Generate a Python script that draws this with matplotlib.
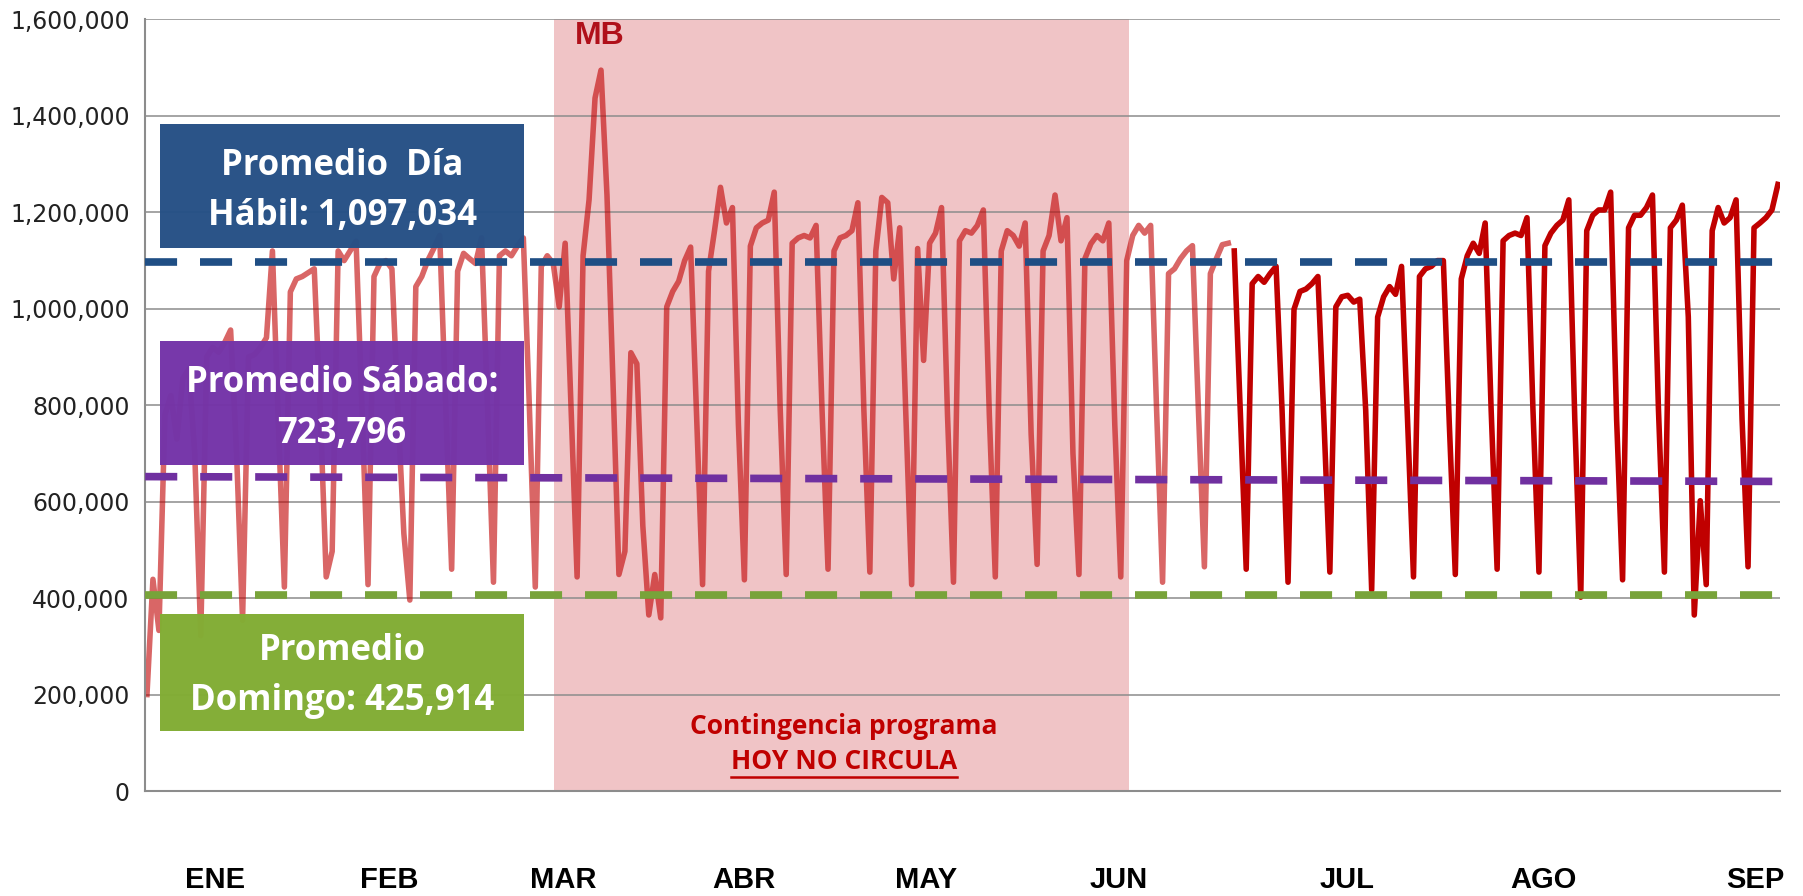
import numpy as np
import matplotlib
matplotlib.use("Agg")
import matplotlib.pyplot as plt
from matplotlib.patches import Rectangle
from matplotlib.ticker import FuncFormatter

# daily ridership (thousands), 1 Jan 2016 -> 30 Jun 2016 (lighter series)
light = [200, 439, 333, 780, 820, 730, 855, 875, 700, 322,
         900, 920, 910, 930, 956, 700, 354, 900, 905, 920,
         940, 1120, 760, 423, 1035, 1062, 1067, 1075, 1083, 790,
         444, 497, 1120, 1100, 1120, 1140, 790, 428, 1067, 1094,
         1100, 1083, 790, 534, 396, 1046, 1067, 1100, 1125, 1152,
         800, 460, 1078, 1115, 1104, 1094, 1147, 800, 433, 1110,
         1120, 1110, 1130, 1147, 800, 423, 1088, 1110, 1094, 1004,
         1136, 790, 444, 1110, 1226, 1437, 1495, 1236, 850, 449,
         497, 909, 886, 550, 365, 449, 359, 1004, 1036, 1057,
         1100, 1128, 780, 428, 1078, 1162, 1252, 1178, 1210, 760,
         438, 1130, 1168, 1178, 1184, 1242, 790, 449, 1136, 1147,
         1152, 1147, 1173, 790, 460, 1120, 1147, 1152, 1162, 1220,
         790, 454, 1120, 1231, 1220, 1062, 1168, 790, 428, 1125,
         893, 1136, 1157, 1210, 780, 433, 1141, 1162, 1157, 1173,
         1205, 780, 444, 1120, 1162, 1152, 1130, 1178, 740, 470,
         1120, 1152, 1236, 1141, 1189, 700, 449, 1104, 1135, 1152,
         1141, 1178, 760, 444, 1100, 1152, 1173, 1157, 1173, 790,
         433, 1073, 1083, 1104, 1120, 1131, 790, 465, 1073, 1104,
         1133, 1136]

# 1 Jul 2016 -> 30 Sep 2016 (darker series)
dark = [1120, 790, 460, 1052, 1067, 1055, 1073, 1088, 790, 433,
        999, 1036, 1041, 1052, 1067, 771, 454, 1004, 1025, 1028,
        1014, 1020, 790, 417, 983, 1025, 1046, 1030, 1088, 771,
        444, 1067, 1083, 1088, 1100, 1100, 760, 449, 1062, 1110,
        1136, 1115, 1178, 790, 460, 1141, 1152, 1157, 1152, 1189,
        790, 454, 1131, 1157, 1173, 1184, 1226, 771, 402, 1162,
        1194, 1205, 1205, 1242, 771, 438, 1168, 1194, 1194, 1210,
        1236, 793, 454, 1168, 1184, 1215, 983, 365, 602, 428,
        1162, 1210, 1178, 1189, 1226, 771, 465, 1168, 1178, 1189,
        1205, 1258]

prom_habil = 1097034
prom_sabado = [652000, 642000]   # trend line, start / end
prom_domingo = 406000

months = ["ENE", "FEB", "MAR", "ABR", "MAY", "JUN", "JUL", "AGO", "SEP"]
month_pos = [11.4, 40.5, 69.6, 99.9, 130.4, 162.7, 200.9, 233.8, 269.3]
contingencia = (68.15, 164.4)

light = np.array(light) * 1000
dark = np.array(dark) * 1000
x_light = np.arange(len(light))
x_dark = np.arange(len(light), len(light) + len(dark))
n_days = len(light) + len(dark)

W, H = 1803, 896
fig = plt.figure(figsize=(W / 100, H / 100), dpi=100)
ax = fig.add_axes([145 / W, 105 / H, 1635 / W, 771.5 / H])


def fy(py):
    # pixel row in the picture -> axes fraction
    return (791 - py) / 771.5


def fx(px):
    return (px - 145) / 1635


ax.axvspan(*contingencia, color="#F0C4C6", zorder=0.2, lw=0)
ax.set_axisbelow(True)
ax.grid(axis="y", color="#8C8C8C", lw=1.1)

ax.plot(x_light, light, color="#C00000", alpha=0.6, lw=4.0, zorder=2,
        solid_joinstyle="round")
ax.plot(x_dark, dark, color="#C00000", lw=4.0, zorder=2, solid_joinstyle="round")

dash = dict(lw=5.5, dashes=(4.2, 3.0), zorder=3, solid_capstyle="butt")
xr = [-0.3, n_days - 1 + 0.3]
ax.plot(xr, [prom_habil, prom_habil], color="#1F4E84", **dash)
ax.plot(xr, prom_sabado, color="#7030A0", **dash)
ax.plot(xr, [prom_domingo, prom_domingo], color="#78A33A", **dash)

ax.set_xlim(-0.33, 273.35)
ax.set_ylim(0, 1600000)
ax.set_yticks(np.arange(0, 1600001, 200000))
ax.yaxis.set_major_formatter(FuncFormatter(lambda v, p: f"{int(v):,}"))
ax.tick_params(axis="y", length=0, pad=11, labelsize=17, labelcolor="#222222")
ax.set_xticks(month_pos)
ax.set_xticklabels(months, fontfamily="Liberation Sans", fontweight="bold",
                   fontsize=21)
ax.tick_params(axis="x", length=0, pad=54)

for s in ["top", "right"]:
    ax.spines[s].set_visible(False)
for s in ["left", "bottom"]:
    ax.spines[s].set_color("#8C8C8C")
    ax.spines[s].set_linewidth(1.5)

# label boxes
boxes = [
    (124, 248, "#265086", ["Promedio  Día", "Hábil: 1,097,034"], [175, 225]),
    (341, 465, "#7434A8", ["Promedio Sábado:", "723,796"], [392, 443]),
    (614, 731, "#82AD34", ["Promedio", "Domingo: 425,914"], [660, 710]),
]
for top, bot, col, lines, bases in boxes:
    ax.add_patch(Rectangle((fx(160), fy(bot)), fx(524) - fx(160), fy(top) - fy(bot),
                           transform=ax.transAxes, facecolor=col, edgecolor="none",
                           alpha=0.98, zorder=5, clip_on=False))
    for t, b in zip(lines, bases):
        ax.text(fx(342), fy(b), t, transform=ax.transAxes, ha="center",
                va="baseline", color="white", fontsize=25, fontweight="bold",
                fontfamily="Open Sans", zorder=6)

# contingency note
ax.text(fx(844), fy(734), "Contingencia programa", transform=ax.transAxes,
        ha="center", va="baseline", color="#C00000", fontsize=19,
        fontweight="bold", fontfamily="Open Sans", zorder=6)
t2 = ax.text(fx(844), fy(769), "HOY NO CIRCULA", transform=ax.transAxes,
             ha="center", va="baseline", color="#C00000", fontsize=19,
             fontweight="bold", fontfamily="Open Sans", zorder=6)
fig.canvas.draw()
bb = t2.get_window_extent()
uy = (H - 777) / H
fig.add_artist(plt.Line2D([bb.x0 / W, bb.x1 / W], [uy, uy], color="#C00000", lw=1.8))

# Metrobus logo
ax.text(fx(600), fy(44), "MB", transform=ax.transAxes, ha="center",
        va="baseline", color="#B0101A", fontsize=23, fontweight="bold",
        fontfamily="Liberation Sans", zorder=6)

fig.savefig("out.png", dpi=100)
